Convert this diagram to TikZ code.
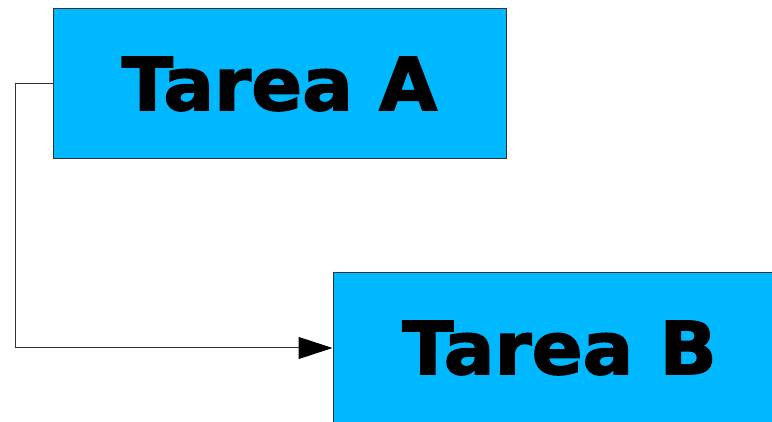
\documentclass[tikz,border=0pt]{standalone}
\usepackage{fontspec}
\setmainfont{DejaVu Sans}
\newfontfamily\heavyfont[FakeBold=2,FakeStretch=1.03]{DejaVu Sans Bold}
\usetikzlibrary{arrows.meta}
\definecolor{taskfill}{HTML}{00B8FF}
\definecolor{edgegray}{HTML}{333333}
\tikzset{
  task/.style={draw=edgegray, line width=1pt, fill=taskfill,
    minimum width=453pt, minimum height=150pt, inner sep=0pt,
    font=\heavyfont\fontsize{73}{80}\selectfont},
  link/.style={draw=edgegray, line width=1pt,
    -{Triangle[length=34pt,width=22pt,color=black]}}
}
\begin{document}
\begin{tikzpicture}[x=1pt,y=-1pt]
  \useasboundingbox (0,0) rectangle (772,422);
  \node[task] (a) at (279.5,84) {Tarea A};
  \node[task] (b) at (559.5,348) {Tarea B};
  \coordinate (bend1) at (15,84);
  \coordinate (bend2) at (15,348);
  \draw[link] (a.west) -- (bend1) -- (bend2) -- (b.west);
\end{tikzpicture}
\end{document}
